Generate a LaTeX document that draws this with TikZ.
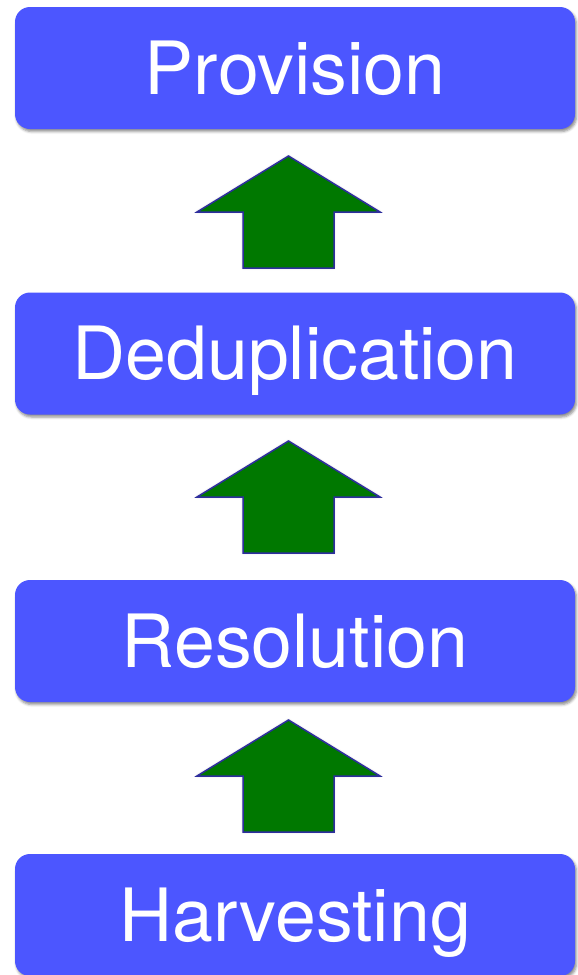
\documentclass[tikz,border=0pt]{standalone}
\usepackage{fontspec}
\setmainfont{TeX Gyre Heros}
\usepackage{tikz}
\usetikzlibrary{calc}
\usetikzlibrary{shadows.blur}

\definecolor{stageblue}{RGB}{76,86,255}
\definecolor{arrowgreen}{RGB}{0,120,0}
\definecolor{arrowline}{RGB}{46,46,158}

\tikzset{
    stage/.style={rounded corners=15pt, fill=stageblue, text=white,
        minimum width=560pt, minimum height=122pt, inner sep=0pt,
        text height=52pt, text depth=0pt,
        font=\fontsize{73.5}{80}\selectfont,
        blur shadow={shadow xshift=1.5pt, shadow yshift=-2.5pt,
            shadow blur radius=2.5pt, shadow opacity=45}},
    uparrow/.style={fill=arrowgreen, draw=arrowline, line width=1.5pt,
        line join=miter,
        blur shadow={shadow xshift=0pt, shadow yshift=0pt,
            shadow blur radius=2pt, shadow opacity=30}}
}

\begin{document}
\begin{tikzpicture}[x=1pt,y=-1pt]
            \useasboundingbox (0,0) rectangle (578,975);

            \node[stage] (provision) at (295,68) {Provision};
            \node[stage] (dedup) at (295,353.5) {Deduplication};
            \node[stage] (resolution) at (295,641) {Resolution};
            \node[stage] (harvest) at (295,915) {Harvesting};

            \foreach \y in {156,441,720}{
                \filldraw[uparrow](288.5,\y)--(380,\y +56)--(334,\y +56)--(334,\y +112)
                    --(243,\y +112)--(243,\y +56)--(197,\y +56)--cycle;
            }

        \end{tikzpicture}
\end{document}
